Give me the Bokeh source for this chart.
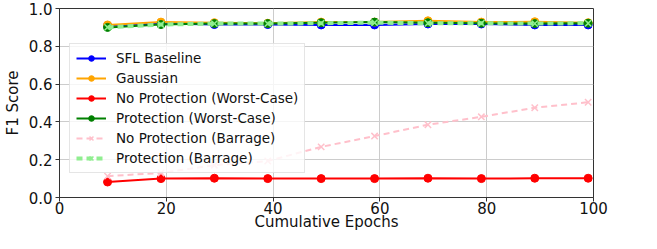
from bokeh.plotting import figure
from bokeh.embed import file_html
from bokeh.resources import INLINE
from bokeh.models import Range1d, FixedTicker, PrintfTickFormatter, Legend

epochs = [9, 19, 29, 39, 49, 59, 69, 79, 89, 99]
sfl_baseline = [0.910, 0.920, 0.915, 0.915, 0.913, 0.913, 0.918, 0.918, 0.913, 0.913]
gaussian = [0.913, 0.928, 0.925, 0.922, 0.928, 0.928, 0.935, 0.928, 0.930, 0.925]
noprot_worst = [0.082, 0.100, 0.102, 0.100, 0.100, 0.100, 0.102, 0.100, 0.102, 0.102]
prot_worst = [0.900, 0.915, 0.920, 0.920, 0.925, 0.928, 0.925, 0.922, 0.920, 0.922]
noprot_barrage = [0.113, 0.130, 0.171, 0.193, 0.268, 0.325, 0.385, 0.427, 0.475, 0.504]
prot_barrage = [0.900, 0.915, 0.920, 0.920, 0.922, 0.925, 0.922, 0.922, 0.920, 0.922]
x_ticks = [0, 20, 40, 60, 80, 100]
y_ticks = [0.0, 0.2, 0.4, 0.6, 0.8, 1.0]

p = figure(width=641, height=233, output_backend="svg", toolbar_location=None,
           x_range=Range1d(0, 100), y_range=Range1d(0, 1),
           min_border_left=52, min_border_right=48, min_border_top=8, min_border_bottom=0)
p.background_fill_color = "white"
p.outline_line_color = "#333333"
p.outline_line_width = 1

for ax in (p.xaxis, p.yaxis):
    ax.axis_line_color = "#333333"
    ax.major_tick_line_color = "#333333"
    ax.minor_tick_line_color = None
    ax.major_tick_out = 4
    ax.major_tick_in = 0
    ax.major_label_text_font = "DejaVu Sans"
    ax.major_label_text_font_size = "15px"
    ax.major_label_text_color = "#111111"
    ax.axis_label_text_font = "DejaVu Sans"
    ax.axis_label_text_font_size = "15px"
    ax.axis_label_text_font_style = "normal"
    ax.axis_label_text_color = "#111111"

p.xaxis.ticker = FixedTicker(ticks=x_ticks)
p.yaxis.ticker = FixedTicker(ticks=y_ticks)
p.yaxis.formatter = PrintfTickFormatter(format="%.1f")
p.yaxis.axis_label = "F1 Score"
p.xaxis.axis_label = "Cumulative Epochs"
p.xaxis.major_label_standoff = 0
p.xaxis.axis_label_standoff = -4
p.yaxis.major_label_standoff = 3
p.yaxis.axis_label_standoff = 4

p.grid.grid_line_color = "#cccccc"
p.grid.grid_line_width = 1

items = []
series = [
    ("SFL Baseline", sfl_baseline, "blue", "solid", "circle", 2),
    ("Gaussian", gaussian, "orange", "solid", "circle", 2),
    ("No Protection (Worst-Case)", noprot_worst, "red", "solid", "circle", 2),
    ("Protection (Worst-Case)", prot_worst, "green", "solid", "circle", 2),
    ("No Protection (Barrage)", noprot_barrage, "pink", "6 4", "x", 2),
    ("Protection (Barrage)", prot_barrage, "lightgreen", "6 4", "x", 4),
]
for label, ys, color, dash, marker, lw in series:
    r1 = p.line(epochs, ys, line_color=color, line_width=lw, line_dash=dash)
    if marker == "circle":
        r2 = p.scatter(epochs, ys, marker="circle", size=8, fill_color=color, line_color=color)
    else:
        r2 = p.scatter(epochs, ys, marker="x", size=9, line_color=color, line_width=1.5)
    items.append((label, [r1, r2]))

legend = Legend(items=items, location=(10, 24))
legend.label_text_font = "DejaVu Sans"
legend.label_text_font_size = "13.5px"
legend.label_text_color = "#111111"
legend.border_line_color = "#cccccc"
legend.border_line_width = 1
legend.background_fill_alpha = 0.8
legend.glyph_width = 30
legend.label_height = 14
legend.glyph_height = 14
legend.spacing = 4
legend.padding = 6
legend.margin = 0
legend.label_standoff = 10
p.add_layout(legend, "center")

open("out.html", "w").write(file_html(p, INLINE))
